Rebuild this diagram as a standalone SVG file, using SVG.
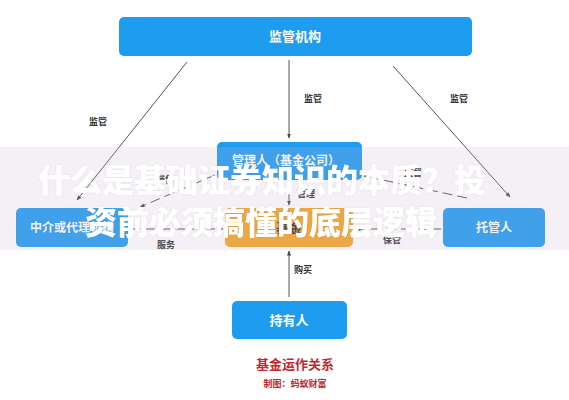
<svg xmlns="http://www.w3.org/2000/svg" width="569" height="400" viewBox="0 0 569 400">
<style>
.box{fill:#1e9cf0}
.t{font-family:"Noto Sans CJK SC","Noto Sans",sans-serif;font-weight:bold;text-anchor:middle}
.nt{fill:#fff;font-size:12px}
.lb{fill:#333;font-size:9px}
.ln{stroke:#555;stroke-width:1;fill:none}
.dl{stroke:#555;stroke-width:1;fill:none;stroke-dasharray:10 5}
.ov{fill:#fff;font-size:32px;font-family:"Noto Sans CJK SC",sans-serif;font-weight:900;text-anchor:middle}
</style>
<defs>
<marker id="ah" viewBox="0 0 10 10" refX="9" refY="5" markerWidth="5" markerHeight="5" orient="auto">
<path d="M0,1 L10,5 L0,9 z" fill="#444"/>
</marker>
<filter id="sh" x="-5%" y="-20%" width="110%" height="140%">
<feDropShadow dx="0" dy="0" stdDeviation="1" flood-color="#000" flood-opacity="0.07"/>
</filter>
</defs>
<rect width="569" height="400" fill="#fff"/>
<g id="connectors">
<line class="ln" x1="187" y1="62" x2="77" y2="200" marker-end="url(#ah)"/>
<line class="ln" x1="289" y1="60" x2="289" y2="138" marker-end="url(#ah)"/>
<line class="ln" x1="393" y1="66" x2="510" y2="197" marker-end="url(#ah)"/>
<line class="ln" x1="289" y1="182" x2="289" y2="205" marker-end="url(#ah)"/>
<line class="ln" x1="289" y1="297" x2="289" y2="251" marker-end="url(#ah)"/>
<line class="dl" x1="215" y1="175" x2="140" y2="207" marker-end="url(#ah)"/>
<line class="dl" x1="130" y1="229" x2="223" y2="229" marker-end="url(#ah)"/>
<line class="dl" x1="467" y1="198" x2="364" y2="176" marker-end="url(#ah)"/>
<line class="dl" x1="441" y1="229" x2="356" y2="229" marker-end="url(#ah)"/>
<text class="t lb" x="98" y="125">监管</text>
<text class="t lb" x="313" y="102">监管</text>
<text class="t lb" x="459" y="102">监管</text>
<text class="t lb" x="306" y="197">管理</text>
<text class="t lb" x="303" y="273">购买</text>
<text class="t lb" x="166" y="248">服务</text>
<text class="t lb" x="392" y="243">保管</text>
<text class="t lb" x="165" y="183">销售</text>
<text class="t lb" x="413" y="176">监督</text>
</g>
<g id="regulator">
<rect class="box" x="119" y="17" width="353" height="39" rx="5"/>
<text class="t nt" x="295" y="41" style="font-size:13px">监管机构</text>
</g>
<g id="manager">
<rect class="box" x="217" y="142" width="145" height="38" rx="5"/>
<text class="t nt" x="286" y="165">管理人（基金公司）</text>
</g>
<g id="agent">
<rect class="box" x="16" y="208" width="112" height="39" rx="5"/>
<text class="t nt" x="72" y="232">中介或代理机构</text>
</g>
<g id="fund">
<rect x="225" y="208" width="128" height="39" rx="5" fill="#f5a623"/>
<text class="t" x="289" y="232" style="font-size:13px;fill:#333">基金</text>
</g>
<g id="custodian">
<rect class="box" x="443" y="208" width="102" height="39" rx="5"/>
<text class="t nt" x="494" y="232">托管人</text>
</g>
<g id="holder">
<rect class="box" x="232" y="301" width="115" height="38" rx="5"/>
<text class="t nt" x="289" y="325" style="font-size:13px">持有人</text>
</g>
<g id="caption">
<text class="t" x="295" y="369" style="font-size:13px;fill:#c0282d">基金运作关系</text>
<text class="t" x="295" y="387" style="font-size:9px;fill:#c0282d">制图：蚂蚁财富</text>
</g>
<g id="overlay">
<rect x="0" y="147" width="569" height="103" fill="#c8b4d2" fill-opacity="0.2"/>
<g filter="url(#sh)">
<text class="ov" x="262" y="192">什么是基础证券知识的本质？投</text>
<text class="ov" x="261" y="234">资前必须搞懂的底层逻辑</text>
</g>
</g>
</svg>
